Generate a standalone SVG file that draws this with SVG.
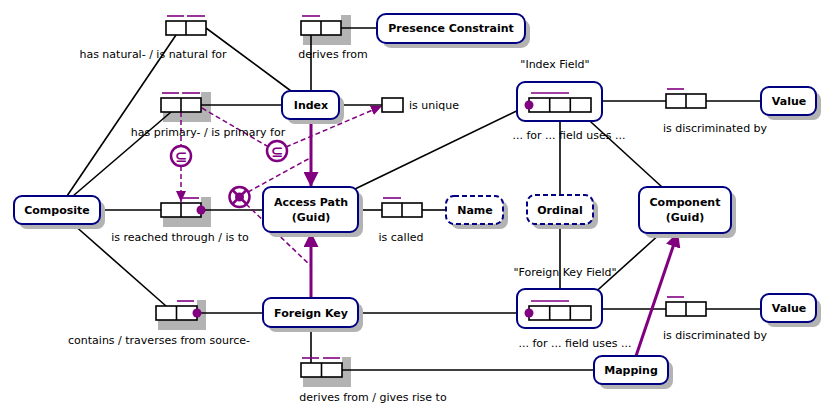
<svg xmlns="http://www.w3.org/2000/svg" width="837" height="410" viewBox="0 0 837 410">
<style>
.node{fill:#fff;stroke:#000080;stroke-width:2}
.dash{stroke-dasharray:5,3}
.shadow{fill:#b3b3b3}
.role{fill:#fff;stroke:#000;stroke-width:1.6}
.uq{stroke:#800080;stroke-width:1.6}
.ln{stroke:#000;stroke-width:1.6;fill:none}
.sub{stroke:#800080;stroke-width:3;fill:none}
.cons{stroke:#800080;stroke-width:1.5;fill:none;stroke-dasharray:5,3}
.ring{fill:#fff;stroke:#800080;stroke-width:2.5}
.lbl{font-family:"DejaVu Sans",Verdana,sans-serif;font-size:11px;fill:#000}
.nm{font-family:"DejaVu Sans",Verdana,sans-serif;font-size:11px;font-weight:bold;fill:#000;text-anchor:middle}
.c{text-anchor:middle}
.sym{font-family:"DejaVu Sans",sans-serif;font-size:15px;font-weight:bold;fill:#800080;text-anchor:middle}
</style>
<defs>
<marker id="big" markerUnits="userSpaceOnUse" markerWidth="15" markerHeight="15" viewBox="0 0 14 14" refX="14" refY="7" orient="auto"><path d="M0,0 L14,7 L0,14 z" fill="#800080"/></marker>
<marker id="small" markerUnits="userSpaceOnUse" markerWidth="11" markerHeight="10" viewBox="0 0 11 10" refX="11" refY="5" orient="auto"><path d="M0,0 L11,5 L0,10 z" fill="#800080"/></marker>
</defs>

<g id="fact-type-shadows">
<path class="shadow" d="M201,92 H211 V122 H163 V112 H201 Z"/>
<path class="shadow" d="M341,15 H351 V45 H303 V35 H341 Z"/>
<path class="shadow" d="M201,197 H211 V227 H163 V217 H201 Z"/>
<path class="shadow" d="M197,300 H206 V330 H158 V320 H197 Z"/>
<path class="shadow" d="M342,357 H351 V387 H303 V377 H342 Z"/>
</g>

<g id="connectors">
<line class="ln" x1="176" y1="35" x2="67" y2="196"/>
<line class="ln" x1="206" y1="28" x2="291" y2="91"/>
<line class="ln" x1="171" y1="112" x2="73" y2="196"/>
<line class="ln" x1="201" y1="105" x2="282" y2="105"/>
<line class="ln" x1="311" y1="35" x2="311" y2="91"/>
<line class="ln" x1="341" y1="28" x2="377" y2="28"/>
<line class="ln" x1="339" y1="105" x2="382" y2="105"/>
<line class="ln" x1="100" y1="210" x2="161" y2="210"/>
<line class="ln" x1="201" y1="210" x2="263" y2="210"/>
<line class="ln" x1="73" y1="224" x2="166" y2="306"/>
<line class="ln" x1="358" y1="210" x2="382" y2="210"/>
<line class="ln" x1="422" y1="210" x2="446" y2="210"/>
<line class="ln" x1="355" y1="189" x2="529" y2="105"/>
<line class="ln" x1="602" y1="101" x2="666" y2="101"/>
<line class="ln" x1="706" y1="101" x2="761" y2="101"/>
<line class="ln" x1="560" y1="112" x2="560" y2="195"/>
<line class="ln" x1="580" y1="112" x2="662" y2="187"/>
<line class="ln" x1="560" y1="224" x2="560" y2="306"/>
<line class="ln" x1="580" y1="306" x2="661" y2="233"/>
<line class="ln" x1="602" y1="309" x2="666" y2="309"/>
<line class="ln" x1="706" y1="309" x2="761" y2="309"/>
<line class="ln" x1="358" y1="313" x2="529" y2="313"/>
<line class="ln" x1="196" y1="313" x2="263" y2="313"/>
<line class="ln" x1="311" y1="327" x2="311" y2="363"/>
<line class="ln" x1="342" y1="370" x2="594" y2="370"/>
<line class="sub" x1="311" y1="119" x2="311" y2="187" marker-end="url(#big)"/>
<line class="sub" x1="311" y1="298" x2="311" y2="232" marker-end="url(#big)"/>
<line class="sub" x1="636" y1="356" x2="678" y2="232" marker-end="url(#big)"/>
<line class="cons" x1="181" y1="112" x2="181" y2="146"/>
<line class="cons" x1="181" y1="166" x2="181" y2="202" marker-end="url(#small)"/>
<line class="cons" x1="202" y1="108" x2="267" y2="146"/>
<line class="cons" x1="286" y1="147" x2="382" y2="106" marker-end="url(#small)"/>
<line class="cons" x1="248" y1="192" x2="310" y2="158"/>
<line class="cons" x1="246" y1="204" x2="310" y2="265"/>
</g>

<g id="composite"><rect class="shadow" x="19" y="201" width="86" height="28" rx="8"/><rect class="node" x="14" y="196" width="86" height="28" rx="8"/><text class="nm" x="57" y="214">Composite</text></g>
<g id="index"><rect class="shadow" x="287" y="96" width="57" height="28" rx="8"/><rect class="node" x="282" y="91" width="57" height="28" rx="8"/><text class="nm" x="311" y="109">Index</text></g>
<g id="presence-constraint"><rect class="shadow" x="382" y="19" width="148" height="29" rx="9"/><rect class="node" x="377" y="14" width="148" height="29" rx="9"/><text class="nm" x="451" y="32">Presence Constraint</text></g>
<g id="access-path"><rect class="shadow" x="268" y="192" width="95" height="45" rx="8"/><rect class="node" x="263" y="187" width="95" height="45" rx="8"/><text class="nm" x="311" y="206">Access Path</text><text class="nm" x="311" y="221">(Guid)</text></g>
<g id="name"><rect class="shadow" x="451" y="201" width="57" height="28" rx="8"/><rect class="node dash" x="446" y="196" width="57" height="28" rx="8"/><text class="nm" x="475" y="214">Name</text></g>
<g id="ordinal"><rect class="shadow" x="532" y="200" width="66" height="29" rx="8"/><rect class="node dash" x="527" y="195" width="66" height="29" rx="8"/><text class="nm" x="560" y="214">Ordinal</text></g>
<g id="component"><rect class="shadow" x="644" y="192" width="92" height="46" rx="8"/><rect class="node" x="639" y="187" width="92" height="46" rx="8"/><text class="nm" x="685" y="206">Component</text><text class="nm" x="685" y="221">(Guid)</text></g>
<g id="value-1"><rect class="shadow" x="766" y="92" width="55" height="28" rx="8"/><rect class="node" x="761" y="87" width="55" height="28" rx="8"/><text class="nm" x="789" y="105">Value</text></g>
<g id="value-2"><rect class="shadow" x="766" y="299" width="55" height="28" rx="8"/><rect class="node" x="761" y="294" width="55" height="28" rx="8"/><text class="nm" x="789" y="312">Value</text></g>
<g id="foreign-key"><rect class="shadow" x="268" y="303" width="95" height="29" rx="8"/><rect class="node" x="263" y="298" width="95" height="29" rx="8"/><text class="nm" x="311" y="317">Foreign Key</text></g>
<g id="mapping"><rect class="shadow" x="599" y="361" width="74" height="28" rx="8"/><rect class="node" x="594" y="356" width="74" height="28" rx="8"/><text class="nm" x="631" y="374">Mapping</text></g>

<g id="ft-natural"><rect class="role" x="166" y="21" width="40" height="14"/><line class="ln" x1="186" y1="21" x2="186" y2="35"/><line class="uq" x1="167" y1="16" x2="184" y2="16"/><line class="uq" x1="187" y1="16" x2="205" y2="16"/><text class="lbl c" x="153" y="58">has natural- / is natural for</text></g>
<g id="ft-primary"><rect class="role" x="161" y="98" width="40" height="14"/><line class="ln" x1="181" y1="98" x2="181" y2="112"/><line class="uq" x1="162" y1="93" x2="179" y2="93"/><line class="uq" x1="182" y1="93" x2="200" y2="93"/><text class="lbl c" x="208" y="136">has primary- / is primary for</text></g>
<g id="ft-derives"><rect class="role" x="301" y="21" width="40" height="14"/><line class="ln" x1="321" y1="21" x2="321" y2="35"/><line class="uq" x1="302" y1="16" x2="320" y2="16"/><text class="lbl c" x="333" y="58">derives from</text></g>
<g id="ft-unique"><rect class="role" x="382" y="98" width="21" height="14"/><text class="lbl" x="409" y="109">is unique</text></g>
<g id="ft-reached"><rect class="role" x="161" y="203" width="40" height="14"/><line class="ln" x1="181" y1="203" x2="181" y2="217"/><line class="uq" x1="182" y1="198" x2="199" y2="198"/><circle cx="201" cy="210" r="4.5" fill="#800080"/><text class="lbl c" x="180" y="241">is reached through / is to</text></g>
<g id="ft-called"><rect class="role" x="382" y="203" width="40" height="14"/><line class="ln" x1="402" y1="203" x2="402" y2="217"/><line class="uq" x1="383" y1="198" x2="401" y2="198"/><text class="lbl c" x="401" y="241">is called</text></g>
<g id="ft-index-field"><rect class="node" x="517" y="82" width="85" height="39" rx="8"/><rect class="role" x="529" y="98" width="62" height="14"/><line class="ln" x1="549.7" y1="98" x2="549.7" y2="112"/><line class="ln" x1="570.3" y1="98" x2="570.3" y2="112"/><line class="uq" x1="531" y1="93" x2="569" y2="93"/><circle cx="529" cy="105" r="4.5" fill="#800080"/><text class="lbl c" x="555" y="68">"Index Field"</text><text class="lbl c" x="569" y="139">... for ... field uses ...</text></g>
<g id="ft-disc-1"><rect class="role" x="666" y="94" width="40" height="14"/><line class="ln" x1="686" y1="94" x2="686" y2="108"/><line class="uq" x1="667" y1="89" x2="684" y2="89"/><text class="lbl c" x="715" y="132">is discriminated by</text></g>
<g id="ft-fk-field"><rect class="node" x="517" y="289" width="85" height="39" rx="8"/><rect class="role" x="529" y="306" width="62" height="14"/><line class="ln" x1="549.7" y1="306" x2="549.7" y2="320"/><line class="ln" x1="570.3" y1="306" x2="570.3" y2="320"/><line class="uq" x1="531" y1="301" x2="569" y2="301"/><circle cx="529" cy="313" r="4.5" fill="#800080"/><text class="lbl c" x="565" y="276">"Foreign Key Field"</text><text class="lbl c" x="575" y="347">... for ... field uses ...</text></g>
<g id="ft-disc-2"><rect class="role" x="666" y="302" width="40" height="14"/><line class="ln" x1="686" y1="302" x2="686" y2="316"/><line class="uq" x1="667" y1="297" x2="684" y2="297"/><text class="lbl c" x="715" y="339">is discriminated by</text></g>
<g id="ft-contains"><rect class="role" x="156" y="306" width="41" height="14"/><line class="ln" x1="176.5" y1="306" x2="176.5" y2="320"/><line class="uq" x1="177" y1="301" x2="194" y2="301"/><circle cx="197" cy="313" r="4.5" fill="#800080"/><text class="lbl c" x="159" y="344">contains / traverses from source-</text></g>
<g id="ft-derives-fk"><rect class="role" x="301" y="363" width="41" height="14"/><line class="ln" x1="321.5" y1="363" x2="321.5" y2="377"/><line class="uq" x1="302" y1="358" x2="319" y2="358"/><line class="uq" x1="323" y1="358" x2="340" y2="358"/><text class="lbl c" x="373" y="401">derives from / gives rise to</text></g>

<g id="subset-1"><circle class="ring" cx="181" cy="156" r="10"/><text class="sym" x="181" y="161.5">⊆</text></g>
<g id="subset-2"><circle class="ring" cx="277" cy="151" r="10"/><text class="sym" x="277" y="156.5">⊆</text></g>
<g id="exclusion"><circle class="ring" cx="239.5" cy="197" r="10"/><line stroke="#800080" stroke-width="2.5" x1="232.5" y1="190" x2="246.5" y2="204"/><line stroke="#800080" stroke-width="2.5" x1="246.5" y1="190" x2="232.5" y2="204"/><circle cx="239.5" cy="197" r="4.5" fill="#800080"/></g>
</svg>
